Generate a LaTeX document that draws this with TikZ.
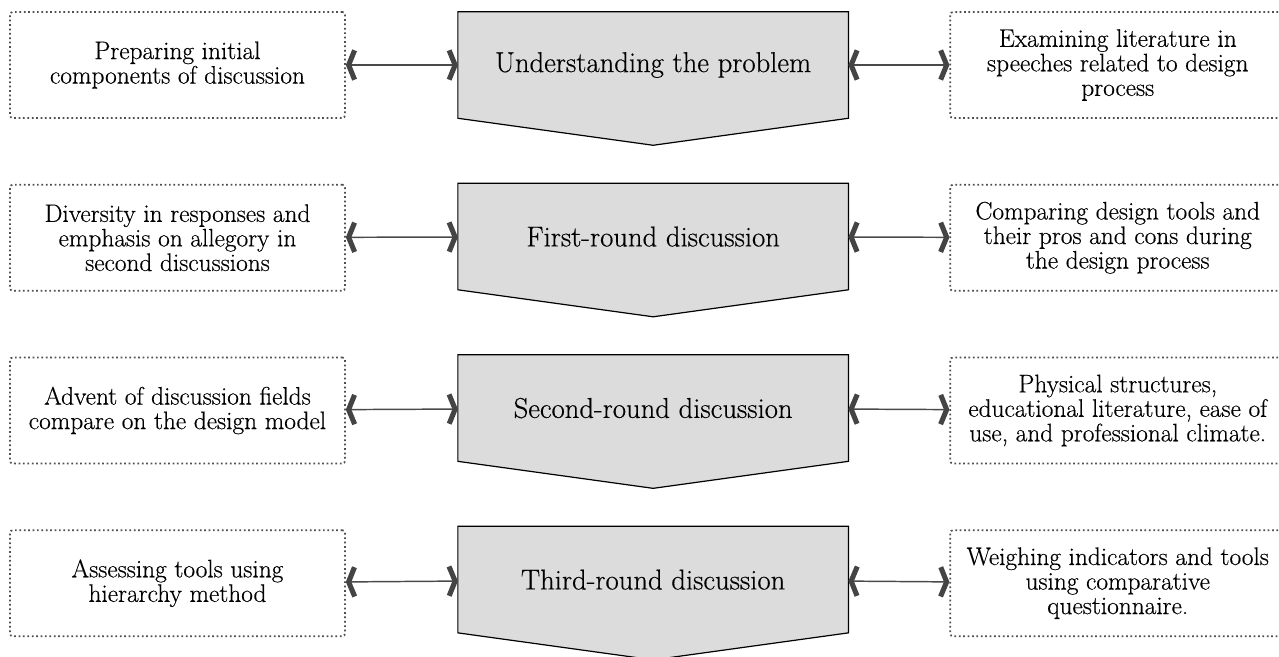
\documentclass[tikz,border=0pt]{standalone}
\usepackage{fontspec}
\setmainfont{Latin Modern Roman}[FakeBold=0.5, AutoFakeBold=false]
\usetikzlibrary{positioning, arrows.meta, backgrounds}

\definecolor{stagegray}{HTML}{DCDCDC}
\definecolor{dotgray}{HTML}{4F4F4F}
\definecolor{linegray}{HTML}{4A4A4A}
\definecolor{tipgray}{HTML}{444444}

\tikzset{
	sidebox/.style={draw=dotgray, dotted, line width=1.3pt, rounded corners=2pt, minimum width=251.25pt, minimum height=79.5pt, align=center, font=\fontsize{19}{18.4}\selectfont\addfontfeature{FakeBold=0.4}}, % the dotted boxes at the sides
	stage/.style={minimum width=292.5pt, minimum height=79.5pt, inner sep=0pt, font=\fontsize{21.5}{24}\selectfont\addfontfeature{FakeBold=0.4}}, % the body of a stage
	stageshape/.style={fill=stagegray, draw=black, line width=0.9pt}, % the grey pointed shape behind a stage
	link/.style={{Straight Barb[length=4.5pt, width=22pt, line width=3.8pt, color=tipgray]}-{Straight Barb[length=4.5pt, width=22pt, line width=3.8pt, color=tipgray]}, draw=linegray, line width=1.1pt}, % double headed connector
	node distance=48.75pt and 84pt, % vertical gap between rows
}

\begin{document}
\begin{tikzpicture}[x=0.75pt, y=-0.75pt]
	\useasboundingbox (0,0) rectangle (1279,657);
	
	% Stages
	\node[sidebox] (l1) at (177.5,65) {Preparing initial\\components of discussion};
	\node[stage, right=84pt of l1] (c1) {Understanding the problem};
	\node[sidebox, right=75.75pt of c1] (r1) {Examining literature in\\speeches related to design\\process};
	
	\node[sidebox, below=of l1] (l2) {Diversity in responses and\\emphasis on allegory in\\second discussions};
	\node[stage, below=of c1] (c2) {First-round discussion};
	\node[sidebox, below=of r1] (r2) {Comparing design tools and\\their pros and cons during\\the design process};
	
	\node[sidebox, below=of l2] (l3) {Advent of discussion fields\\compare on the design model};
	\node[stage, below=of c2] (c3) {Second-round discussion};
	\node[sidebox, below=of r2] (r3) {Physical structures,\\educational literature, ease of\\use, and professional climate.};
	
	\node[sidebox, below=of l3] (l4) {Assessing tools using\\hierarchy method};
	\node[stage, below=of c3] (c4) {Third-round discussion};
	\node[sidebox, below=of r3] (r4) {Weighing indicators and tools\\using comparative\\questionnaire.};
	
	% Pointed shapes
	\begin{scope}[on background layer]
		\path[stageshape] (c1.north west) -- (c1.north east) -- (c1.south east) -- ([yshift=-20.25pt]c1.south) -- (c1.south west) -- cycle;
		\path[stageshape] (c2.north west) -- (c2.north east) -- (c2.south east) -- ([yshift=-20.25pt]c2.south) -- (c2.south west) -- cycle;
		\path[stageshape] (c3.north west) -- (c3.north east) -- (c3.south east) -- ([yshift=-20.25pt]c3.south) -- (c3.south west) -- cycle;
		\path[stageshape] (c4.north west) -- (c4.north east) -- (c4.south east) -- ([yshift=-20.25pt]c4.south) -- (c4.south west) -- cycle;
	\end{scope}
	
	% Links
	\draw[link] (l1) edge (c1)
	(c1) edge (r1)
	(l2) edge (c2)
	(c2) edge (r2)
	(l3) edge (c3)
	(c3) edge (r3)
	(l4) edge (c4)
	(c4) edge (r4);
	
\end{tikzpicture}
\end{document}
